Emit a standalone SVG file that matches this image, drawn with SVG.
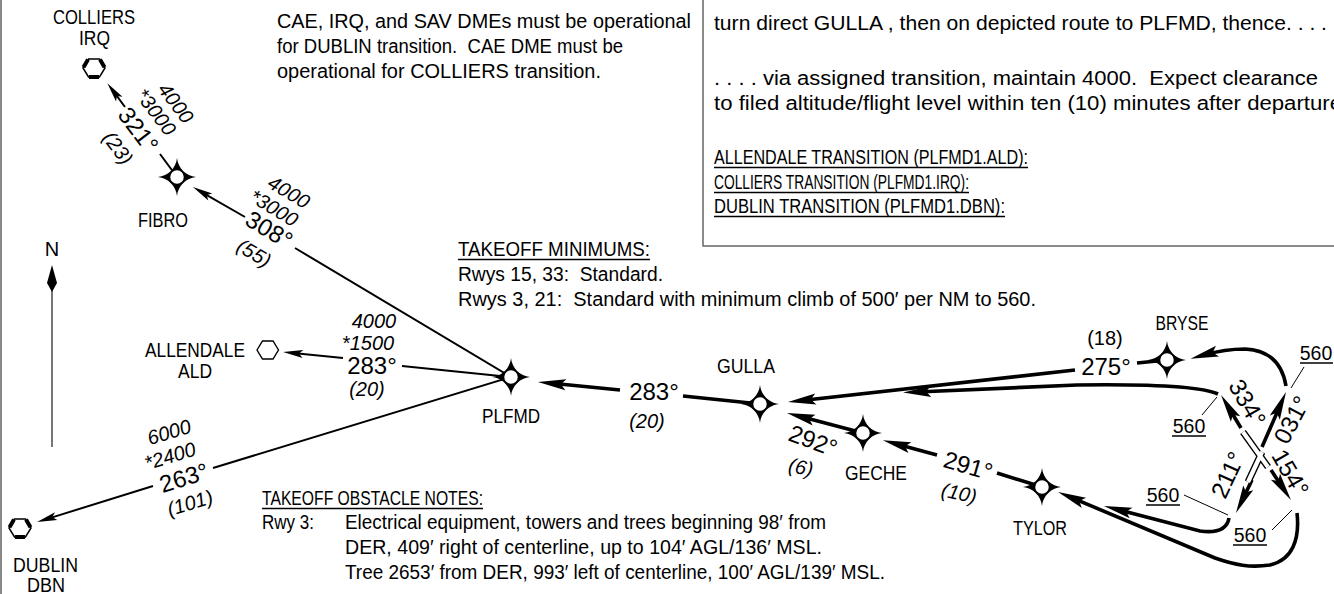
<svg xmlns="http://www.w3.org/2000/svg" xmlns:xlink="http://www.w3.org/1999/xlink" width="1334" height="594" viewBox="0 0 1334 594" xml:space="preserve">
<style>
text { font-family: "Liberation Sans", Arial, sans-serif; fill: #000; white-space: pre; }
.n { font-size: 19.5px; }
.nm { font-size: 20px; }
.alt { font-size: 20px; font-style: italic; }
.crs { font-size: 24px; }
.r { fill: none; stroke: #000; stroke-width: 2; }
.rb { fill: none; stroke: #000; stroke-width: 3.6; }
.ul { stroke: #000; stroke-width: 1.3; }
.ld { stroke: #000; stroke-width: 1; fill: none; }
.m { text-anchor: middle; }
</style>
<defs>
<marker id="ah" markerUnits="userSpaceOnUse" orient="auto" markerWidth="30" markerHeight="30" refX="0" refY="0" style="overflow:visible"><path d="M10,0 L-10,-4 L-6,0 L-10,4 Z" fill="#000"/></marker>
<marker id="ahb" markerUnits="userSpaceOnUse" orient="auto" markerWidth="40" markerHeight="40" refX="0" refY="0" style="overflow:visible"><path d="M14,0 L-14,-5.5 L-9,0 L-14,5.5 Z" fill="#000"/></marker>
<g id="wp">
<path d="M0,-19 C1,-9 9,-1 19,0 C9,1 1,9 0,19 C-1,9 -9,1 -19,0 C-9,-1 -1,-9 0,-19 Z" fill="#000"/>
<circle r="7.5" fill="#fff" stroke="#000" stroke-width="1.5"/>
</g>
<g id="vortac">
<polygon points="-11,0 -5.5,-9 5.5,-9 11,0 5.5,9 -5.5,9" fill="#fff" stroke="#000" stroke-width="1.5"/>
<path d="M-10.5,-0.8 L-6,-8.5 M6,-8.5 L10.5,-0.8 M-5,9 L5,9" stroke="#000" stroke-width="4" fill="none"/>
</g>
</defs>
<rect width="1334" height="594" fill="#fff"/>
<line x1="1" y1="0" x2="1" y2="594" stroke="#888" stroke-width="2"/>

<g id="notes-top">
<text class="n" x="277" y="28" textLength="414" lengthAdjust="spacingAndGlyphs">CAE, IRQ, and SAV DMEs must be operational</text>
<text class="n" x="277" y="53" textLength="346" lengthAdjust="spacingAndGlyphs">for DUBLIN transition.  CAE DME must be</text>
<text class="n" x="277" y="78" textLength="324" lengthAdjust="spacingAndGlyphs">operational for COLLIERS transition.</text>
</g>

<g id="procedure-box">
<rect x="703" y="-5" width="650" height="251" fill="none" stroke="#666" stroke-width="1.5"/>
<text class="n" x="714" y="30" textLength="613" lengthAdjust="spacingAndGlyphs">turn direct GULLA , then on depicted route to PLFMD, thence. . . .</text>
<text class="n" x="714" y="85" textLength="604" lengthAdjust="spacingAndGlyphs">. . . . via assigned transition, maintain 4000.  Expect clearance</text>
<text class="n" x="714" y="110" textLength="628" lengthAdjust="spacingAndGlyphs">to filed altitude/flight level within ten (10) minutes after departure</text>
<text class="n" x="714" y="164" textLength="314" lengthAdjust="spacingAndGlyphs">ALLENDALE TRANSITION (PLFMD1.ALD):</text>
<line class="ul" x1="714" y1="167.5" x2="1028" y2="167.5"/>
<text class="n" x="714" y="189" textLength="255" lengthAdjust="spacingAndGlyphs">COLLIERS TRANSITION (PLFMD1.IRQ):</text>
<line class="ul" x1="714" y1="192.5" x2="969" y2="192.5"/>
<text class="n" x="714" y="213" textLength="291" lengthAdjust="spacingAndGlyphs">DUBLIN TRANSITION (PLFMD1.DBN):</text>
<line class="ul" x1="714" y1="216.5" x2="1005" y2="216.5"/>
</g>

<g id="takeoff-minimums">
<text class="n" x="458" y="256" textLength="192" lengthAdjust="spacingAndGlyphs">TAKEOFF MINIMUMS:</text>
<line class="ul" x1="458" y1="259.5" x2="650" y2="259.5"/>
<text class="n" x="458" y="281" textLength="205" lengthAdjust="spacingAndGlyphs">Rwys 15, 33:  Standard.</text>
<text class="n" x="458" y="306" textLength="578" lengthAdjust="spacingAndGlyphs">Rwys 3, 21:  Standard with minimum climb of 500′ per NM to 560.</text>
</g>

<g id="obstacle-notes">
<text class="n" x="262" y="505" textLength="221" lengthAdjust="spacingAndGlyphs">TAKEOFF OBSTACLE NOTES:</text>
<line class="ul" x1="262" y1="508.5" x2="483" y2="508.5"/>
<text class="n" x="262" y="529" textLength="52" lengthAdjust="spacingAndGlyphs">Rwy 3:</text>
<text class="n" x="345" y="529" textLength="481" lengthAdjust="spacingAndGlyphs">Electrical equipment, towers and trees beginning 98′ from</text>
<text class="n" x="345" y="554" textLength="477" lengthAdjust="spacingAndGlyphs">DER, 409′ right of centerline, up to 104′ AGL/136′ MSL.</text>
<text class="n" x="345" y="579" textLength="540" lengthAdjust="spacingAndGlyphs">Tree 2653′ from DER, 993′ left of centerline, 100′ AGL/139′ MSL.</text>
</g>

<g id="north-arrow">
<line x1="52" y1="288" x2="52" y2="447" stroke="#777" stroke-width="2"/>
<polygon points="52,265 57,283 52,292 47,283" fill="#000"/>
<text class="nm m" x="52" y="256">N</text>
</g>

<g id="connectors">
<path class="r" d="M177,177 L160,154 M125,107 L113.3,91.2" marker-end="url(#ah)"/>
<path class="r" d="M511,377 L295,248 M245,217 L201.6,192.1" marker-end="url(#ah)"/>
<path class="r" d="M511,377 L402,366 M343,358 L293,353" marker-end="url(#ah)"/>
<path class="r" d="M511,377 L213,468 M153,486 L46.6,519.1" marker-end="url(#ah)"/>
<path class="rb" d="M760,404 L683,396 M620,390 L551.9,383.3" marker-end="url(#ahb)"/>
<path class="rb" d="M863,433 L800.5,416.6" marker-end="url(#ahb)"/>
<path class="rb" d="M1042,487 L997,473 M937,455 L896.4,444" marker-end="url(#ahb)"/>
<path class="rb" d="M1167,360 L1137,363 M1075,370 L801.9,400.5" marker-end="url(#ahb)"/>
<path class="rb" d="M1218,394 C1200,386 1150,384 1077,385 L917,392" marker-end="url(#ahb)"/>
<path class="rb" d="M1286,386 C1282,362 1268,350 1245,349 C1232,349 1218,351 1204,355" marker-end="url(#ahb)"/>
<path class="rb" d="M1297,513 C1300,540 1292,560 1270,565 C1250,568 1235,565 1215,558 L1071,497.4" marker-end="url(#ahb)"/>
<path class="rb" d="M1229,518 C1227,530 1215,533 1200,531 L1117.5,509.5" marker-end="url(#ahb)"/>
<path class="rb" d="M1241,428 L1228.3,407" marker-end="url(#ahb)"/>
<path class="rb" d="M1262,447 L1280.4,404.8" marker-end="url(#ahb)"/>
<path class="rb" d="M1271,470 L1283.2,488.4" marker-end="url(#ahb)"/>
<path class="rb" d="M1252,480 L1242.1,500.4" marker-end="url(#ahb)"/>
<path class="ld" d="M1304,367 L1291,388 M1202,415 L1217,397 M1184,495 L1228,515 M1272,530 L1292,510"/>
</g>

<g id="leg-labels">
<text class="alt m" transform="translate(176,103) rotate(53)" y="7">4000</text>
<text class="alt m" transform="translate(156,112) rotate(53)" y="7">*3000</text>
<text class="crs m" transform="translate(138,130) rotate(53)" y="8">321°</text>
<text class="alt m" transform="translate(118,148) rotate(53)" y="7">(23)</text>

<text class="alt m" transform="translate(289,192) rotate(31)" y="7">4000</text>
<text class="alt m" transform="translate(274,208) rotate(31)" y="7">*3000</text>
<text class="crs m" transform="translate(269,230) rotate(31)" y="8">308°</text>
<text class="alt m" transform="translate(254,253) rotate(31)" y="7">(55)</text>

<text class="alt m" x="374" y="328">4000</text>
<text class="alt m" x="368" y="350">*1500</text>
<text class="crs m" x="372" y="374">283°</text>
<text class="alt m" x="367" y="396">(20)</text>

<text class="alt m" transform="translate(169,432) rotate(-17)" y="7">6000</text>
<text class="alt m" transform="translate(170,456) rotate(-17)" y="7">*2400</text>
<text class="crs m" transform="translate(184,478) rotate(-17)" y="8">263°</text>
<text class="alt m" transform="translate(190,503) rotate(-17)" y="7">(101)</text>

<text class="crs m" x="654" y="400">283°</text>
<text class="alt m" x="647" y="428">(20)</text>

<text class="crs m" transform="translate(813,441) rotate(20)" y="8">292°</text>
<text class="alt m" transform="translate(801,467) rotate(12)" y="7">(6)</text>

<text class="crs m" transform="translate(968,466) rotate(16)" y="8">291°</text>
<text class="alt m" transform="translate(959,493) rotate(12)" y="7">(10)</text>

<text class="alt m" x="1105" y="345" style="font-style:normal">(18)</text>
<text class="crs m" x="1106" y="375">275°</text>

<text class="crs m" transform="translate(1247,403) rotate(60)" y="8">334°</text>
<text class="crs m" transform="translate(1292,420) rotate(-62)" y="8">031°</text>
<text class="crs m" transform="translate(1290,473) rotate(60)" y="8">154°</text>
<text class="crs m" transform="translate(1228,475) rotate(-65)" y="8">211°</text>

<text class="n m" x="1316" y="360">560</text>
<line class="ul" x1="1300" y1="363" x2="1333" y2="363"/>
<text class="n m" x="1189" y="433">560</text>
<line class="ul" x1="1172" y1="436" x2="1206" y2="436"/>
<text class="n m" x="1163" y="502">560</text>
<line class="ul" x1="1146" y1="505" x2="1180" y2="505"/>
<text class="n m" x="1250" y="542">560</text>
<line class="ul" x1="1233" y1="545" x2="1267" y2="545"/>
</g>

<g id="runways">
<path d="M1243,432 L1268,467 M1248,482 L1262,452" stroke="#000" stroke-width="7" fill="none"/>
<path d="M1243,432 L1268,467 M1248,482 L1262,452" stroke="#fff" stroke-width="4.2" fill="none"/>
</g>

<g id="IRQ">
<use xlink:href="#vortac" x="94" y="68"/>
<text class="nm m" x="94" y="24" textLength="82" lengthAdjust="spacingAndGlyphs">COLLIERS</text>
<text class="nm m" x="94.5" y="45" textLength="31" lengthAdjust="spacingAndGlyphs">IRQ</text>
</g>
<g id="FIBRO">
<use xlink:href="#wp" x="177" y="177"/>
<text class="nm m" x="163" y="227" textLength="50" lengthAdjust="spacingAndGlyphs">FIBRO</text>
</g>
<g id="ALD">
<polygon points="257,350 262.5,341 273,341 278.5,350 273,359 262.5,359" fill="#fff" stroke="#000" stroke-width="1.4"/>
<text class="nm m" x="195" y="357" textLength="100" lengthAdjust="spacingAndGlyphs">ALLENDALE</text>
<text class="nm m" x="195" y="378" textLength="34" lengthAdjust="spacingAndGlyphs">ALD</text>
</g>
<g id="DBN">
<use xlink:href="#vortac" x="20" y="528"/>
<text class="nm m" x="45.5" y="572" textLength="65" lengthAdjust="spacingAndGlyphs">DUBLIN</text>
<text class="nm m" x="46" y="592" textLength="38" lengthAdjust="spacingAndGlyphs">DBN</text>
</g>
<g id="PLFMD">
<use xlink:href="#wp" x="511" y="377"/>
<text class="nm m" x="511" y="423" textLength="58" lengthAdjust="spacingAndGlyphs">PLFMD</text>
</g>
<g id="GULLA">
<use xlink:href="#wp" x="760" y="404"/>
<text class="nm m" x="746" y="373" textLength="58" lengthAdjust="spacingAndGlyphs">GULLA</text>
</g>
<g id="GECHE">
<use xlink:href="#wp" x="863" y="433"/>
<text class="nm m" x="876" y="480" textLength="62" lengthAdjust="spacingAndGlyphs">GECHE</text>
</g>
<g id="TYLOR">
<use xlink:href="#wp" x="1042" y="487"/>
<text class="nm m" x="1040" y="535" textLength="54" lengthAdjust="spacingAndGlyphs">TYLOR</text>
</g>
<g id="BRYSE">
<use xlink:href="#wp" x="1167" y="360"/>
<text class="nm m" x="1182" y="330" textLength="53" lengthAdjust="spacingAndGlyphs">BRYSE</text>
</g>
</svg>
